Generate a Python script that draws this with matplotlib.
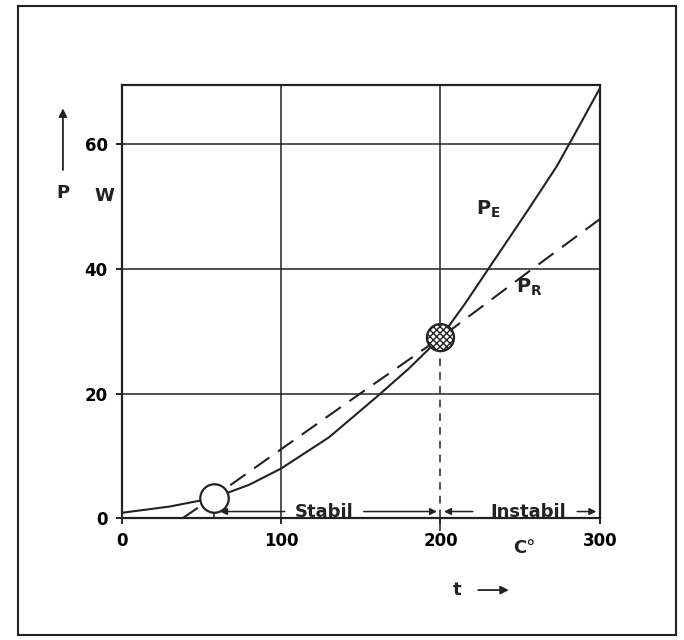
import numpy as np
import matplotlib.pyplot as plt
from matplotlib.patches import Rectangle, FancyArrowPatch

# values
t_e = [0, 30, 58, 80, 100, 130, 160, 180, 200, 215, 230, 255, 273, 285, 300]
p_e = [0.9, 1.9, 3.3, 5.4, 8.0, 13.0, 19.5, 24.0, 29.0, 34.3, 40.0, 49.5, 56.5, 62.0, 69.0]
t_r = [38, 58, 100, 145, 200, 256, 300]
p_r = [0.0, 3.5, 11.1, 19.2, 29.0, 39.7, 48.0]
x_ticks = [0, 100, 200, 300]
y_ticks = [0, 20, 40, 60]
stable_pt = (58, 3.3)
unstable_pt = (200, 29.0)

plt.rcParams['font.family'] = ['DejaVu Sans']
plt.rcParams['font.weight'] = 'bold'
ink = '#222222'

fig = plt.figure(figsize=(6.84, 6.4), dpi=100)
fig.patches.append(Rectangle((0.026, 0.008), 0.963, 0.983, transform=fig.transFigure,
                             fill=False, lw=1.5, ec=ink))

ax = fig.add_axes([0.178, 0.19, 0.699, 0.677])
ax.set_xlim(0, 300)
ax.set_ylim(0, 69.5)

for y in y_ticks[1:]:
    ax.axhline(y, color=ink, lw=1.1)
ax.axvline(100, color=ink, lw=1.1)
ax.plot([200, 200], [unstable_pt[1], 69.5], color=ink, lw=1.1)
ax.plot([200, 200], [-2, unstable_pt[1]], color=ink, lw=1.1, ls=(0, (5, 4)), clip_on=False)

for s in ax.spines.values():
    s.set_linewidth(1.6)
    s.set_color(ink)

ax.plot(t_e, p_e, color=ink, lw=1.5)
ax.plot(t_r, p_r, color=ink, lw=1.5, ls=(0, (9, 5)))

ax.scatter([stable_pt[0]], [stable_pt[1]], s=420, facecolor='white', edgecolor=ink,
           lw=1.6, zorder=5, clip_on=False)
ax.scatter([unstable_pt[0]], [unstable_pt[1]], s=380, facecolor='white', edgecolor=ink,
           hatch='xxxxx', lw=1.6, zorder=5)

ax.set_xticks(x_ticks)
ax.set_yticks(y_ticks)
ax.tick_params(direction='out', length=4, width=1.2, labelsize=12, pad=6)
for lab in ax.get_xticklabels() + ax.get_yticklabels():
    lab.set_fontweight('bold')

# stable / unstable arrows
ya = 1.1
aprops = dict(arrowstyle='-|>', color=ink, lw=1.1, mutation_scale=10)
ax.annotate('', xy=(60, ya), xytext=(104, ya), arrowprops=aprops)
ax.plot([58, 58], [0, ya], color=ink, lw=1.1)
ax.text(127, ya, 'Stabil', ha='center', va='center', fontsize=13, fontweight='bold', color=ink)
ax.annotate('', xy=(199.5, ya), xytext=(150, ya), arrowprops=aprops)
ax.annotate('', xy=(200.5, ya), xytext=(222, ya), arrowprops=aprops)
ax.text(255, ya, 'Instabil', ha='center', va='center', fontsize=13, fontweight='bold', color=ink)
ax.annotate('', xy=(299.5, ya), xytext=(284, ya), arrowprops=aprops)

# curve labels
ax.text(230, 49.5, r'P$_\mathregular{E}$', fontsize=14, color=ink, ha='center', va='center')
ax.text(256, 37.0, r'P$_\mathregular{R}$', fontsize=14, color=ink, ha='center', va='center')

# axis labels
fig.text(0.092, 0.698, 'P', fontsize=13, fontweight='bold', ha='center', va='center', color=ink)
fig.text(0.153, 0.694, 'W', fontsize=13, fontweight='bold', ha='center', va='center', color=ink)
fig.patches.append(FancyArrowPatch((0.092, 0.730), (0.092, 0.835), transform=fig.transFigure,
                                   arrowstyle='-|>', mutation_scale=12, color=ink, lw=1.3))
fig.text(0.767, 0.143, 'C°', fontsize=13, fontweight='bold', ha='center', va='center', color=ink)
fig.text(0.668, 0.078, 't', fontsize=13, fontweight='bold', ha='center', va='center', color=ink)
fig.patches.append(FancyArrowPatch((0.695, 0.078), (0.748, 0.078), transform=fig.transFigure,
                                   arrowstyle='-|>', mutation_scale=12, color=ink, lw=1.3))

fig.savefig('out.png', dpi=100)
